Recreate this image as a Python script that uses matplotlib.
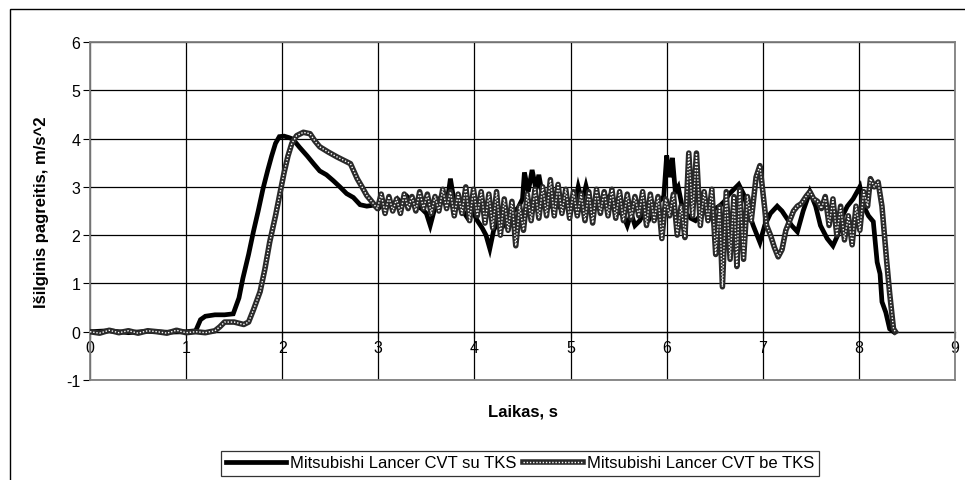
import numpy as np
import matplotlib
matplotlib.use('Agg')
import matplotlib.pyplot as plt
from matplotlib.patches import Rectangle
from matplotlib.lines import Line2D
from matplotlib.legend_handler import HandlerTuple

plt.rcParams['font.family'] = ['Liberation Sans Narrow', 'Liberation Sans', 'DejaVu Sans']
plt.rcParams['axes.unicode_minus'] = False

# Mitsubishi Lancer CVT su TKS
t_su = [0.0, 0.2, 0.4, 0.6, 0.8, 1.0, 1.1, 1.15, 1.2, 1.3, 1.4, 1.49, 1.55, 1.59, 1.65, 1.70,
        1.75, 1.80, 1.85, 1.89, 1.93, 1.97, 2.02, 2.07, 2.11, 2.18, 2.26, 2.33, 2.39, 2.46,
        2.53, 2.60, 2.67, 2.74, 2.81, 2.88, 2.95, 3.0, 3.05, 3.1, 3.15, 3.2, 3.25, 3.3, 3.35,
        3.4, 3.45, 3.5, 3.54, 3.58, 3.62, 3.67, 3.72, 3.75, 3.78, 3.83, 3.88, 3.93, 3.98,
        4.03, 4.08, 4.12, 4.16, 4.2, 4.25, 4.3, 4.35, 4.4, 4.45, 4.5, 4.52, 4.56, 4.6, 4.64,
        4.67, 4.71, 4.75, 4.8, 4.85, 4.9, 4.95, 5.0, 5.05, 5.08, 5.12, 5.16, 5.2, 5.25, 5.3,
        5.35, 5.4, 5.45, 5.5, 5.55, 5.59, 5.63, 5.67, 5.72, 5.77, 5.82, 5.87, 5.92, 5.97,
        6.0, 6.03, 6.06, 6.09, 6.12, 6.16, 6.2, 6.25, 6.3, 6.35, 6.4, 6.45, 6.5, 6.55, 6.6,
        6.65, 6.7, 6.75, 6.8, 6.85, 6.9, 6.97, 7.02, 7.08, 7.15, 7.2, 7.25, 7.3, 7.36, 7.42,
        7.49, 7.55, 7.6, 7.67, 7.73, 7.78, 7.83, 7.88, 7.94, 8.01, 8.05, 8.1, 8.15, 8.19,
        8.22, 8.24, 8.28, 8.32, 8.36]
a_su = [0.0, 0.02, -0.02, 0.01, -0.01, 0.0, 0.02, 0.25, 0.32, 0.35, 0.35, 0.37, 0.7, 1.1, 1.6,
        2.07, 2.5, 2.96, 3.35, 3.64, 3.9, 4.04, 4.05, 4.02, 3.99, 3.82, 3.64, 3.47, 3.33, 3.25,
        3.13, 3.0, 2.86, 2.78, 2.63, 2.6, 2.62, 2.55, 2.65, 2.7, 2.6, 2.75, 2.65, 2.8, 2.7,
        2.6, 2.55, 2.45, 2.2, 2.5, 2.7, 2.85, 2.75, 3.17, 2.8, 2.6, 2.5, 2.35, 2.5,
        2.3, 2.15, 2.0, 1.72, 2.1, 2.3, 2.2, 2.4, 2.5, 2.55, 2.75, 3.3, 2.9, 3.35, 2.95,
        3.25, 2.8, 2.7, 2.6, 2.65, 2.55, 2.6, 2.65, 2.7, 3.0, 2.7, 3.02, 2.7, 2.65, 2.75,
        2.7, 2.8, 2.6, 2.5, 2.4, 2.2, 2.45, 2.2, 2.3, 2.5, 2.35, 2.6, 2.7, 2.8,
        3.65, 3.2, 3.6, 2.9, 3.0, 2.6, 2.45, 2.35, 2.3, 2.4, 2.5, 2.45, 2.55, 2.6, 2.7,
        2.85, 2.95, 3.05, 2.85, 2.5, 2.2, 1.85, 2.2, 2.45, 2.6, 2.5, 2.35, 2.2, 2.07, 2.5,
        2.9, 2.6, 2.2, 1.93, 1.78, 2.0, 2.4, 2.6, 2.75, 3.0, 2.6, 2.4, 2.28, 1.44,
        1.2, 0.62, 0.4, 0.06, 0.0]

# Mitsubishi Lancer CVT be TKS
t_be = [0.0, 0.1, 0.2, 0.3, 0.4, 0.5, 0.6, 0.7, 0.8, 0.9, 1.0, 1.1, 1.2, 1.3, 1.35, 1.4, 1.5,
        1.6, 1.65, 1.7, 1.77, 1.82, 1.87, 1.93, 1.98, 2.02, 2.06, 2.1, 2.15, 2.22, 2.29, 2.34,
        2.39, 2.48, 2.57, 2.64, 2.71, 2.75, 2.78, 2.83, 2.88, 2.93, 2.99,
        3.03, 3.07, 3.11, 3.15, 3.19, 3.23, 3.27, 3.31, 3.35, 3.39, 3.43, 3.47, 3.51, 3.55,
        3.59, 3.63, 3.67, 3.71, 3.75, 3.79, 3.83, 3.87, 3.91, 3.95, 3.99, 4.03, 4.07, 4.11,
        4.15, 4.19, 4.23, 4.27, 4.31, 4.35, 4.39, 4.43, 4.47, 4.51, 4.55, 4.59, 4.63, 4.67,
        4.71, 4.75, 4.79, 4.83, 4.87, 4.91, 4.95, 4.99, 5.03, 5.07, 5.11, 5.15, 5.19, 5.23,
        5.27, 5.31, 5.35, 5.39, 5.43, 5.47, 5.51, 5.55, 5.59, 5.63, 5.67, 5.71, 5.75, 5.79,
        5.83, 5.87, 5.91, 5.95, 5.99, 6.03, 6.07, 6.11, 6.15, 6.19, 6.23, 6.27, 6.31, 6.35,
        6.39, 6.43, 6.47, 6.51, 6.55, 6.58, 6.62, 6.66, 6.7, 6.73, 6.76, 6.8, 6.84, 6.88,
        6.93, 6.97, 7.0, 7.04, 7.08, 7.12, 7.16, 7.2, 7.24, 7.28, 7.32, 7.36, 7.4, 7.45,
        7.49, 7.53, 7.57, 7.61, 7.65, 7.69, 7.73, 7.77, 7.81, 7.85, 7.89, 7.93, 7.97, 8.01,
        8.05, 8.09, 8.12, 8.16, 8.2, 8.24, 8.27, 8.29, 8.32, 8.36, 8.38]
a_be = [0.0, -0.03, 0.03, -0.02, 0.02, -0.03, 0.02, 0.0, -0.03, 0.03, -0.02, 0.0, -0.02, 0.02,
        0.1, 0.2, 0.2, 0.15, 0.2, 0.45, 0.83, 1.3, 1.86, 2.4, 2.9, 3.3, 3.64, 3.9, 4.06, 4.13,
        4.1, 3.95, 3.83, 3.72, 3.62, 3.55, 3.48, 3.3, 3.17, 3.0, 2.82, 2.7, 2.55,
        2.85, 2.45, 2.8, 2.5, 2.75, 2.45, 2.85, 2.55, 2.8, 2.5, 2.9, 2.55, 2.85, 2.45,
        2.8, 2.5, 2.95, 2.55, 2.9, 2.4, 2.85, 2.45, 3.0, 2.3, 2.95, 2.4, 2.9, 2.25,
        2.85, 2.15, 2.9, 2.0, 2.75, 2.1, 2.7, 1.78, 2.6, 2.1, 2.85, 2.3, 2.95, 2.35,
        3.0, 2.4, 3.15, 2.4, 3.05, 2.45, 2.95, 2.35, 2.9, 2.4, 2.85, 2.3, 2.9, 2.25,
        2.95, 2.45, 2.9, 2.4, 2.95, 2.35, 2.9, 2.3, 2.85, 2.35, 2.8, 2.4, 2.9, 2.2,
        2.85, 2.3, 2.8, 1.93, 2.75, 2.4, 2.85, 2.0, 2.6, 1.95, 3.7, 2.4, 3.7, 2.2,
        2.9, 2.3, 2.95, 1.6, 2.6, 0.93, 2.9, 1.5, 2.8, 1.35, 2.95, 1.5, 2.8, 2.3,
        3.2, 3.44, 2.9, 2.2, 2.0, 1.75, 1.55, 1.7, 2.1, 2.3, 2.5, 2.6, 2.65, 2.8,
        2.9, 2.75, 2.7, 2.55, 2.8, 2.2, 2.75, 2.0, 2.6, 1.9, 2.4, 1.8, 2.6, 2.1,
        2.9, 2.6, 3.17, 3.0, 3.1, 2.6, 1.9, 1.44, 0.8, 0.06, 0.0]

x_ticks = [0, 1, 2, 3, 4, 5, 6, 7, 8, 9]
y_ticks = [-1, 0, 1, 2, 3, 4, 5, 6]
label_su = 'Mitsubishi Lancer CVT su TKS'
label_be = 'Mitsubishi Lancer CVT be TKS'

W, H = 965, 481
FS = 11.5
fig = plt.figure(figsize=(W / 100, H / 100), dpi=100)
# outer chart frame (cut at right and bottom)
fig.patches.append(Rectangle((10 / W, -0.1), 2.0, (H - 10) / H + 0.1, transform=fig.transFigure,
                             fill=False, edgecolor='black', lw=1.0))

ax = fig.add_axes([90 / W, 1 - 381 / H, 865 / W, 338 / H])
ax.set_xlim(0, 9)
ax.set_ylim(-1, 6)
ax.set_xticks(x_ticks)
ax.set_yticks(y_ticks)
ax.grid(True, color='black', lw=0.9)
ax.set_axisbelow(True)
for s in ax.spines.values():
    s.set_color('#808080')
    s.set_linewidth(1.3)
ax.tick_params(axis='x', length=0, labelbottom=False)
ax.tick_params(axis='y', direction='out', length=5, width=0.8, labelsize=FS, pad=2)

# data
ax.plot(t_su, a_su, color='black', lw=3.4, solid_joinstyle='miter', zorder=3)
ax.plot(t_be, a_be, color='#2a2a2a', lw=4.0, zorder=4)
ax.plot(t_be, a_be, color='white', lw=1.0, dashes=(1, 1.3), zorder=5)

# x axis crossing at y = 0
sec = ax.secondary_xaxis(1 / 7)
sec.set_xticks(x_ticks)
sec.spines['bottom'].set_color('black')
sec.spines['bottom'].set_linewidth(0.9)
sec.tick_params(direction='out', length=4, width=0.8, labelsize=FS, pad=2)

ax.set_ylabel('Išilginis pagreitis, m/s^2', fontsize=12, fontweight='bold')
ax.yaxis.set_label_coords(-0.047, 0.5)
ax.set_xlabel('Laikas, s', fontsize=12, fontweight='bold')
ax.xaxis.set_label_coords(0.5, -0.07)

h_su = Line2D([], [], color='black', lw=3.4)
h_be1 = Line2D([], [], color='#2a2a2a', lw=4.0)
h_be2 = Line2D([], [], color='white', lw=1.0, dashes=(1, 1.3))
leg = fig.legend([h_su, (h_be1, h_be2)], [label_su, label_be], ncol=2, loc='center',
                 bbox_to_anchor=(520 / W, 1 - 464 / H), fontsize=12, frameon=True,
                 fancybox=False, edgecolor='black', handlelength=3.6, handletextpad=0.25,
                 columnspacing=0.4, borderpad=0.3,
                 handler_map={tuple: HandlerTuple(ndivide=1, pad=0)})
leg.get_frame().set_linewidth(0.9)

fig.savefig('out.png', dpi=100)
